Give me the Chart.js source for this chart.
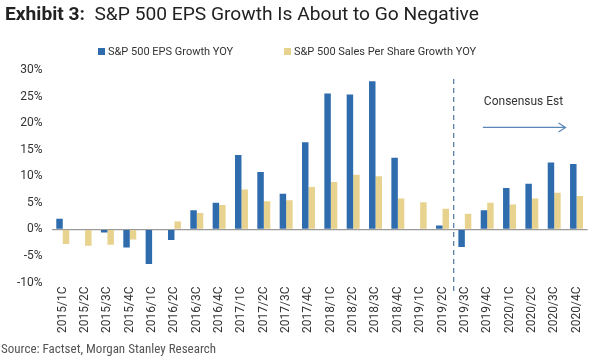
<!DOCTYPE html>
<html>
<head>
<meta charset="utf-8">
<script src="https://cdn.jsdelivr.net/npm/chart.js@4/dist/chart.umd.min.js"></script>
<style>
  html, body { margin: 0; padding: 0; background: #fff; }
  #wrap { position: relative; width: 595px; height: 357px; overflow: hidden; font-family: Roboto, "Noto Sans", sans-serif; }
  #c { position: absolute; left: 0; top: 0; }
  #title { position: absolute; left: 5px; top: 2px; font-size: 19.2px; color: #222; white-space: nowrap; }
  #title b { font-weight: 700; }
  #legend { position: absolute; top: 45px; left: 0; width: 595px; font-size: 11px; color: #333; white-space: nowrap; }
  .li { position: absolute; top: 0; }
  .sw { display: inline-block; width: 7px; height: 7px; margin-right: 3px; vertical-align: 0px; }
  #source { position: absolute; left: 1px; top: 341px; font-size: 13px; color: #555; white-space: nowrap; font-family: "Liberation Sans Narrow", "Roboto Condensed", Roboto, sans-serif; }
</style>
</head>
<body>
<div id="wrap">
  <canvas id="c" width="595" height="357"></canvas>
  <div id="title"><b>Exhibit 3:</b>&nbsp; S&amp;P 500 EPS Growth Is About to Go Negative</div>
  <div id="legend">
    <span class="li" style="left:98px"><span class="sw" style="background:#2e6cae"></span>S&amp;P 500 EPS Growth YOY</span>
    <span class="li" style="left:284px"><span class="sw" style="background:#e7d28e"></span>S&amp;P 500 Sales Per Share Growth YOY</span>
  </div>
  <div id="source">Source: Factset, Morgan Stanley Research</div>
</div>
<script>
const categories = ["2015/1C","2015/2C","2015/3C","2015/4C","2016/1C","2016/2C","2016/3C","2016/4C",
  "2017/1C","2017/2C","2017/3C","2017/4C","2018/1C","2018/2C","2018/3C","2018/4C",
  "2019/1C","2019/2C","2019/3C","2019/4C","2020/1C","2020/2C","2020/3C","2020/4C"];
const epsGrowth = [2.0, 0, -0.6, -3.4, -6.5, -2.0, 3.6, 5.0, 14.0, 10.8, 6.7, 16.4,
  25.6, 25.4, 27.9, 13.5, 0, 0.75, -3.3, 3.6, 7.8, 8.6, 12.6, 12.3];
const salesGrowth = [-2.75, -3.1, -2.9, -1.9, 0, 1.5, 3.1, 4.6, 7.5, 5.3, 5.5, 8.0,
  8.9, 10.3, 10.0, 5.8, 5.1, 3.9, 2.95, 5.0, 4.7, 5.8, 6.9, 6.3];
const seriesNames = ["S&P 500 EPS Growth YOY", "S&P 500 Sales Per Share Growth YOY"];
const yTicks = { min: -10, max: 30, step: 5 };
const annotationText = "Consensus Est";
const estimateStartIndex = 18;

const overlay = {
  id: 'overlay',
  afterDatasetsDraw(chart) {
    const { ctx, chartArea, scales } = chart;
    const x = scales.x, y = scales.y;
    const xl = (x.getPixelForValue(estimateStartIndex - 1) + x.getPixelForValue(estimateStartIndex)) / 2;
    ctx.save();
    ctx.strokeStyle = '#5b7fa6';
    ctx.lineWidth = 1.3;
    ctx.setLineDash([5, 4]);
    ctx.beginPath();
    ctx.moveTo(xl, chartArea.top + 9);
    ctx.lineTo(xl, chartArea.bottom + 9);
    ctx.stroke();
    ctx.setLineDash([]);
    const tx = x.getPixelForValue(estimateStartIndex) + 19;
    ctx.fillStyle = '#333';
    ctx.font = '12px Roboto, "Noto Sans", sans-serif';
    ctx.textBaseline = 'middle';
    ctx.textAlign = 'left';
    ctx.fillText(annotationText, tx, y.getPixelForValue(24));
    const ay = y.getPixelForValue(19.2);
    const ax2 = x.getPixelForValue(categories.length - 1) - 11;
    ctx.strokeStyle = '#5b86b8';
    ctx.lineWidth = 1.2;
    ctx.beginPath();
    ctx.moveTo(tx - 1, ay);
    ctx.lineTo(ax2, ay);
    ctx.moveTo(ax2 - 7, ay - 4.5);
    ctx.lineTo(ax2, ay);
    ctx.lineTo(ax2 - 7, ay + 4.5);
    ctx.stroke();
    ctx.restore();
  }
};

new Chart(document.getElementById('c'), {
  type: 'bar',
  data: {
    labels: categories,
    datasets: [
      { label: seriesNames[0], data: epsGrowth, backgroundColor: '#2e6cae', borderWidth: 0,
        categoryPercentage: 0.58, barPercentage: 1.0 },
      { label: seriesNames[1], data: salesGrowth, backgroundColor: '#e7d28e', borderWidth: 0,
        categoryPercentage: 0.58, barPercentage: 1.0 }
    ]
  },
  options: {
    responsive: false,
    animation: false,
    devicePixelRatio: 1,
    layout: { padding: { top: 70, left: 8, right: 3, bottom: 20 } },
    plugins: { legend: { display: false }, title: { display: false }, tooltip: { enabled: false } },
    scales: {
      x: {
        grid: { display: false, drawTicks: false },
        border: { display: false },
        ticks: { minRotation: 90, maxRotation: 90, autoSkip: false, padding: 4, color: '#333',
          font: { family: 'Roboto, "Noto Sans", sans-serif', size: 12 } }
      },
      y: {
        min: yTicks.min, max: yTicks.max,
        border: { display: false },
        grid: { drawTicks: false, lineWidth: 1.2,
          color: (c) => (c.tick && c.tick.value === 0) ? '#9a9a9a' : 'rgba(0,0,0,0)' },
        ticks: { stepSize: yTicks.step, padding: 9, color: '#333',
          font: { family: 'Roboto, "Noto Sans", sans-serif', size: 12 },
          callback: (v) => v + '%' }
      }
    }
  },
  plugins: [overlay]
});
</script>
</body>
</html>
